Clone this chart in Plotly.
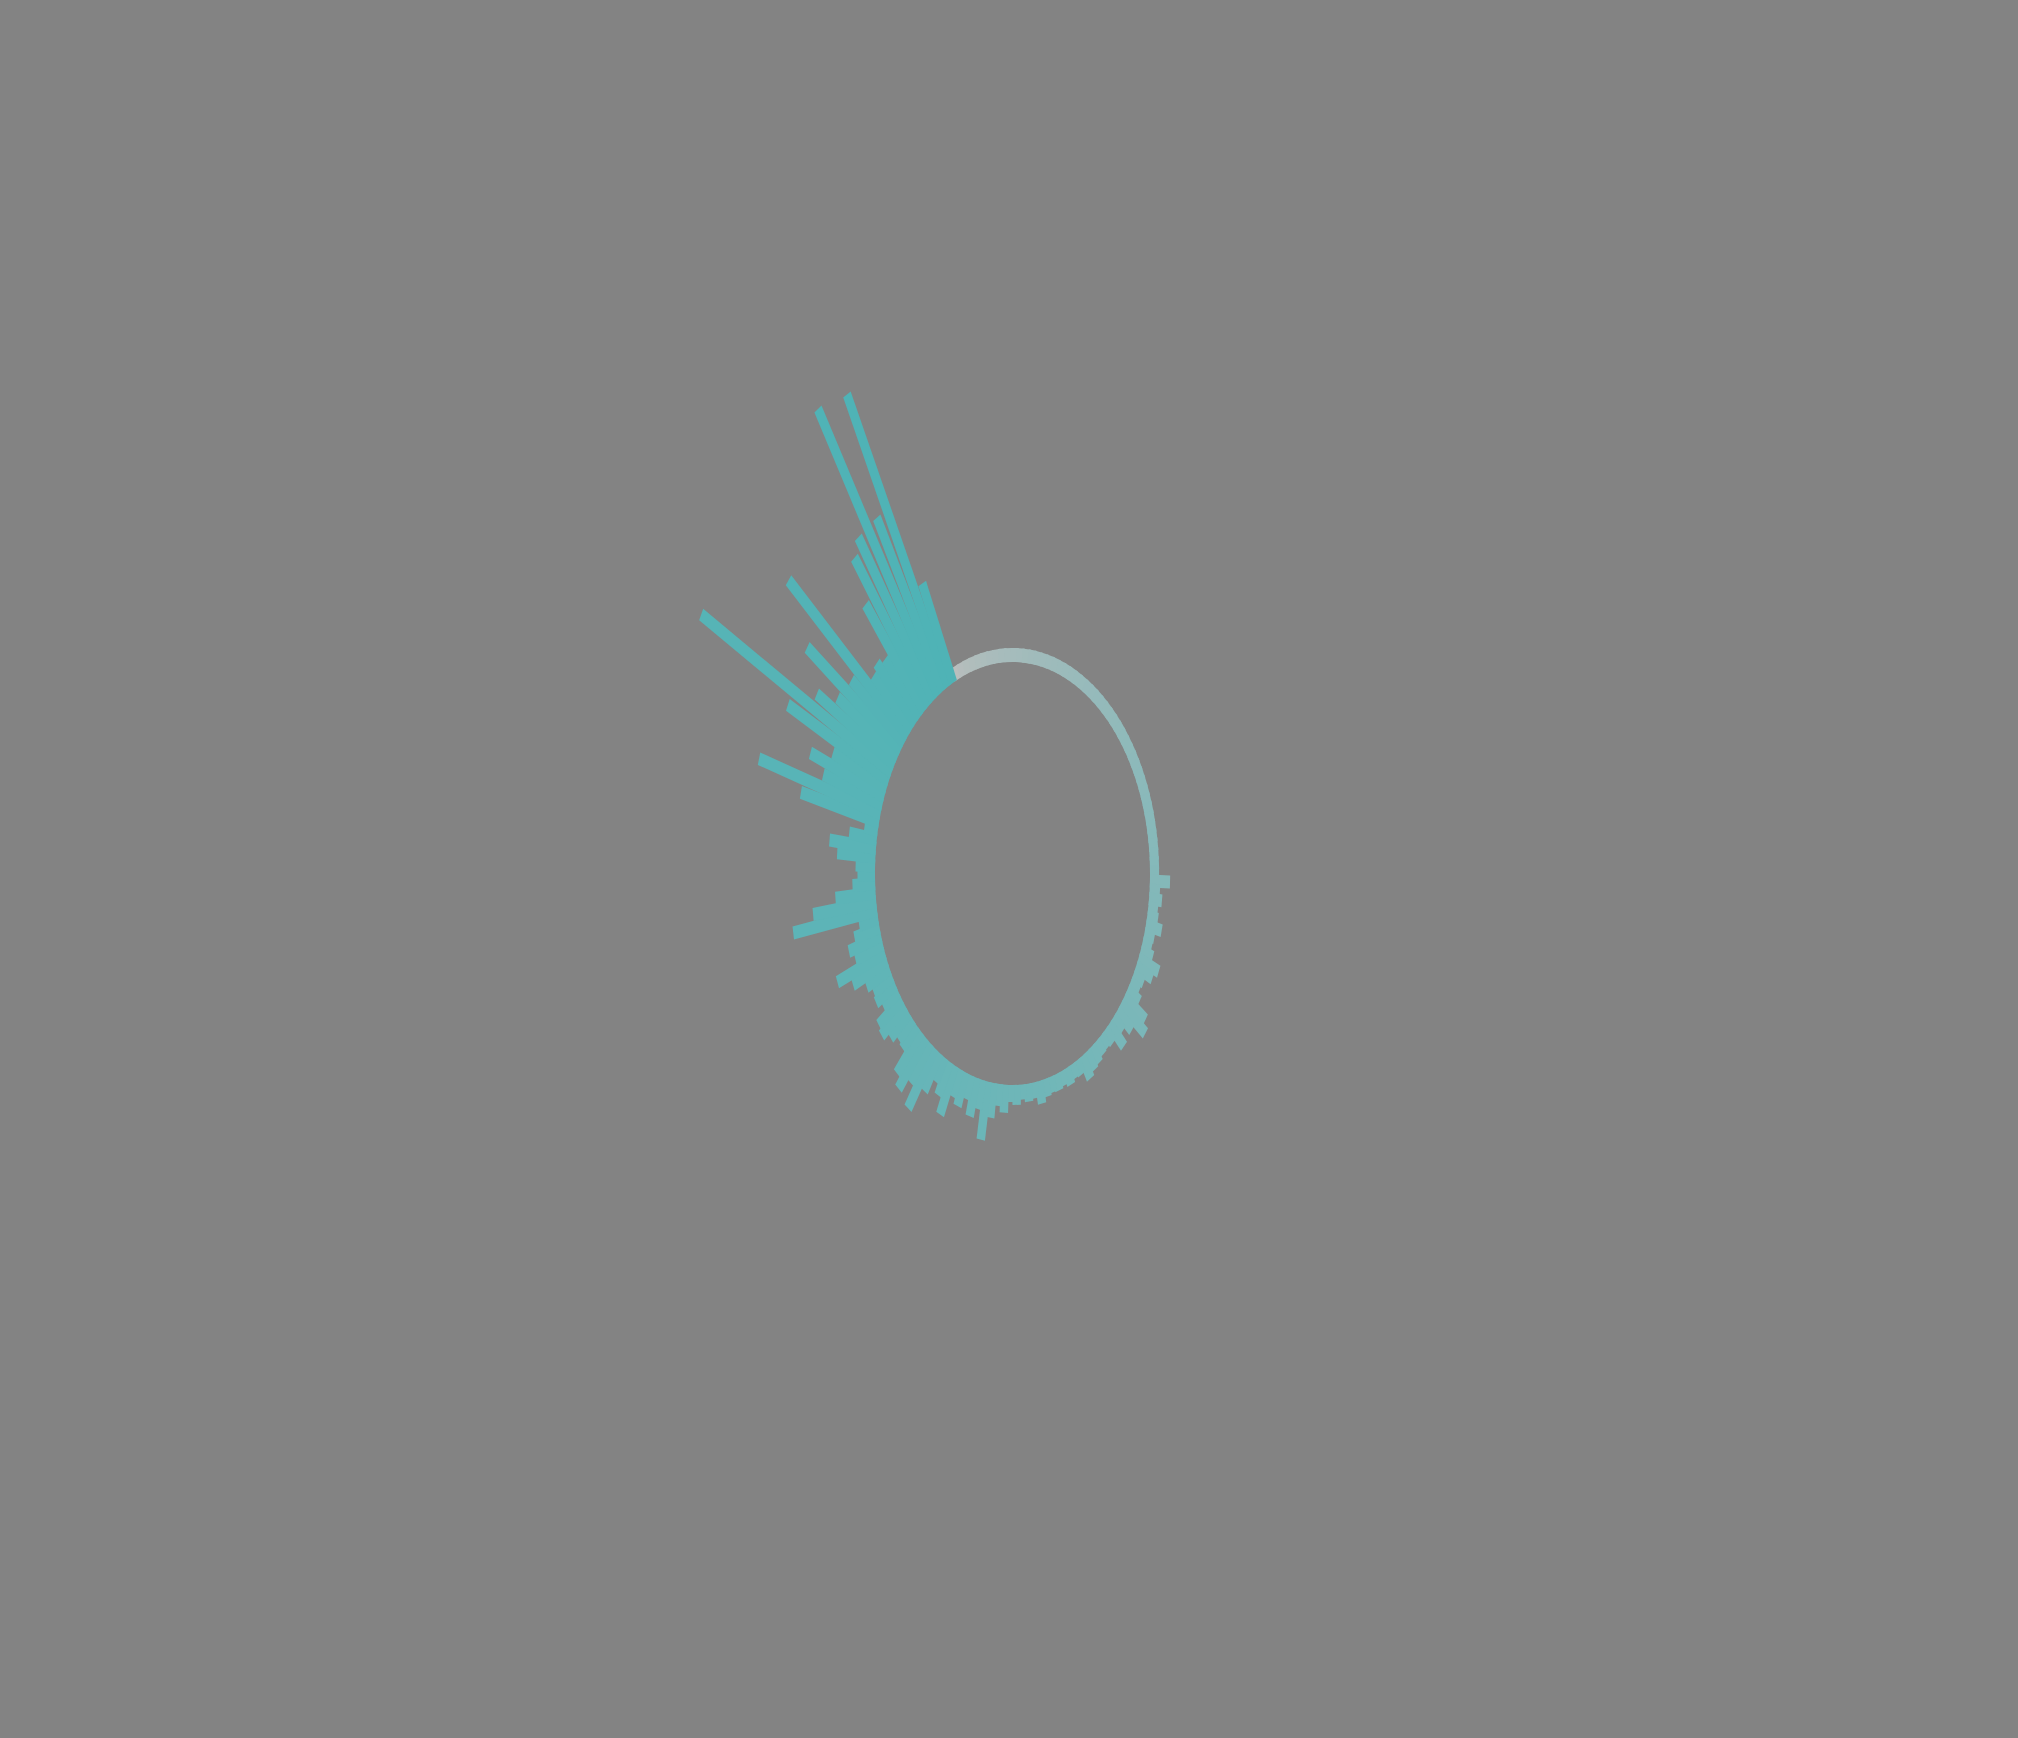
import math
import plotly.graph_objects as go

# ---- data (bar lengths, clockwise from the start angle) ----
n_bars = 150
start_angle = -23.2      # degrees, clockwise from 12 o'clock (first bar centre)
step_angle = 2.4         # degrees between bars
values = [14] * 48 + [
    31, 16, 20, 15, 17, 25, 16, 15, 20, 34,
    28, 18, 16, 22, 40, 48, 30, 20, 32, 18,
    16, 17, 20, 22, 26, 16, 15, 18, 15, 17,
    16, 18, 23, 16, 18, 15, 20, 17, 28, 22,
    35, 59, 30, 40, 25, 36, 30, 54, 38, 28,
    45, 73, 50, 66, 56, 32, 30, 38, 47, 44,
    28, 35, 33, 40, 58, 79, 45, 52, 40, 30,
    131, 98, 62, 35, 27, 30, 59, 72, 43, 21,
    124, 195, 96, 122, 90, 173, 333, 139, 110, 177,
    103, 241, 80, 85, 79, 140, 187, 200, 341, 201,
    331, 110,
]
assert len(values) == n_bars

# ---- style ----
bg = "#838383"
c_start = (186, 190, 189)
c_end = (79, 179, 182)
inner_radius = 211.5
bar_width = 13.0
x_scale = 0.65           # horizontal squash of the ring
W, H = 2018, 1738
cx_px, cy_px = 1012.5, 873.5

fig = go.Figure()
for i, v in enumerate(values):
    th = math.radians(start_angle + step_angle * i)
    dx, dy = math.sin(th), math.cos(th)
    px, py = math.cos(th), -math.sin(th)
    hw = bar_width / 2
    r0, r1 = inner_radius, inner_radius + v
    xs = [r0 * dx + hw * px, r1 * dx + hw * px, r1 * dx - hw * px, r0 * dx - hw * px, r0 * dx + hw * px]
    ys = [r0 * dy + hw * py, r1 * dy + hw * py, r1 * dy - hw * py, r0 * dy - hw * py, r0 * dy + hw * py]
    t = (i / (n_bars - 1)) ** 0.6
    col = "rgb(%d,%d,%d)" % tuple(round(a + (b - a) * t) for a, b in zip(c_start, c_end))
    fig.add_trace(go.Scatter(
        x=xs, y=ys, mode="lines", fill="toself", fillcolor=col,
        line=dict(width=0, color=col), hoverinfo="skip", showlegend=False,
    ))

fig.update_layout(
    width=W, height=H,
    margin=dict(l=0, r=0, t=0, b=0),
    paper_bgcolor=bg, plot_bgcolor=bg,
    showlegend=False,
    xaxis=dict(range=[-cx_px / x_scale, (W - cx_px) / x_scale], visible=False, fixedrange=True),
    yaxis=dict(range=[cy_px - H, cy_px], visible=False, fixedrange=True),
)
fig.write_html(
    "out.html",
    config={"displayModeBar": False},
    post_script="document.body.style.margin='0';document.body.style.padding='0';"
                "document.body.style.background='%s';document.body.style.overflow='hidden';" % bg,
)
